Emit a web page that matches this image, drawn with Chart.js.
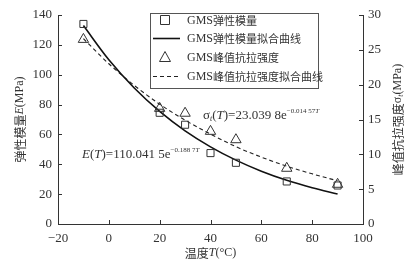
<!DOCTYPE html>
<html>
<head>
<meta charset="utf-8">
<script src="https://cdn.jsdelivr.net/npm/chart.js@4/dist/chart.umd.min.js"></script>
<style>
  html, body { margin: 0; padding: 0; background: #fff; }
  #wrap { width: 409px; height: 263px; }
</style>
</head>
<body>
<div id="wrap"><canvas id="chart"></canvas></div>
<script>
// measured points
const tempPoints = [-10, 20, 30, 40, 50, 70, 90];
const modulusPoints = [134, 74.5, 66.5, 47.5, 41, 28.5, 25.8];
const strengthPoints = [26.5, 16.6, 15.9, 13.3, 12.1, 8.0, 5.7];

// fitted curves
const tempCurve = [-10, 0, 10, 20, 30, 40, 50, 60, 70, 80, 90];
const modulusCurve = [132.9, 110.0, 91.1, 75.4, 62.4, 51.7, 42.8, 35.4, 29.3, 24.3, 20.1];
const strengthCurve = [26.6, 23.0, 19.9, 17.2, 14.9, 12.9, 11.1, 9.6, 8.3, 7.2, 6.2];

const xTicks = [-20, 0, 20, 40, 60, 80, 100];
const leftTicks = [0, 20, 40, 60, 80, 100, 120, 140];
const rightTicks = [0, 5, 10, 15, 20, 25, 30];

const serif = '"Liberation Serif", "Noto Sans CJK SC", serif';
const cjk = '"Noto Sans CJK SC", "Liberation Serif", serif';
const ink = '#333';

const pts = (xs, ys) => xs.map((x, i) => ({x: x, y: ys[i]}));

// mixed-font text: segs = [text, font, dy]
function rich(ctx, x, y, segs) {
    let cx = x;
    segs.forEach(s => {
        ctx.font = s[1];
        ctx.fillText(s[0], cx, y + (s[2] || 0));
        cx += ctx.measureText(s[0]).width;
    });
    return cx - x;
}
function richWidth(ctx, segs) {
    let w = 0;
    segs.forEach(s => { ctx.font = s[1]; w += ctx.measureText(s[0]).width; });
    return w;
}

const decor = {
    id: 'decor',
    afterDraw(chart) {
        const ctx = chart.ctx;
        const area = chart.chartArea;
        const sx = chart.scales.x, sy = chart.scales.y, sy1 = chart.scales.y1;
        ctx.save();
        ctx.strokeStyle = ink;
        ctx.lineWidth = 1;
        ctx.beginPath();
        sx.ticks.forEach(t => {
            const p = Math.round(sx.getPixelForValue(t.value)) + 0.5;
            ctx.moveTo(p, area.bottom); ctx.lineTo(p, area.bottom - 4);
        });
        sy.ticks.forEach(t => {
            const p = Math.round(sy.getPixelForValue(t.value)) + 0.5;
            ctx.moveTo(area.left, p); ctx.lineTo(area.left + 4, p);
        });
        sy1.ticks.forEach(t => {
            const p = Math.round(sy1.getPixelForValue(t.value)) + 0.5;
            ctx.moveTo(area.right, p); ctx.lineTo(area.right - 4, p);
        });
        ctx.stroke();

        ctx.fillStyle = ink;
        ctx.textBaseline = 'middle';
        ctx.textAlign = 'left';

        // axis titles
        const xt = [['温度', '12px ' + cjk], ['T', 'italic 12px ' + serif], ['(°C)', '12px ' + serif]];
        rich(ctx, (area.left + area.right) / 2 - richWidth(ctx, xt) / 2, 253, xt);

        const lt = [['弹性模量', '12px ' + cjk], ['E', 'italic 12px ' + serif], ['(MPa)', '12px ' + serif]];
        ctx.save();
        ctx.translate(20, (area.top + area.bottom) / 2);
        ctx.rotate(-Math.PI / 2);
        rich(ctx, -richWidth(ctx, lt) / 2, 0, lt);
        ctx.restore();

        const rt = [['峰值抗拉强度', '12px ' + cjk], ['σ', '12px ' + serif], ['t', 'italic 8px ' + serif, 3], ['(MPa)', '12px ' + serif]];
        ctx.save();
        ctx.translate(398, (area.top + area.bottom) / 2);
        ctx.rotate(-Math.PI / 2);
        rich(ctx, -richWidth(ctx, rt) / 2, 0, rt);
        ctx.restore();

        // fit equations
        rich(ctx, 203, 116, [
            ['σ', '13px ' + serif], ['t', 'italic 8px ' + serif, 3], ['(', '13px ' + serif],
            ['T', 'italic 13px ' + serif], [')=23.039 8e', '13px ' + serif],
            ['−0.014 57', '7px ' + serif, -5], ['T', 'italic 7px ' + serif, -5]
        ]);
        rich(ctx, 82, 155, [
            ['E', 'italic 13px ' + serif], ['(', '13px ' + serif], ['T', 'italic 13px ' + serif],
            [')=110.041 5e', '13px ' + serif],
            ['−0.188 7', '7px ' + serif, -5], ['T', 'italic 7px ' + serif, -5]
        ]);

        // legend box
        const bx = 150.5, by = 13.5, bw = 168, bh = 75;
        ctx.fillStyle = '#fff';
        ctx.fillRect(bx, by, bw, bh);
        ctx.strokeStyle = '#555';
        ctx.strokeRect(bx, by, bw, bh);
        const rows = [20, 38, 57, 76];
        chart.data.datasets.forEach((ds, i) => {
            const y = rows[i];
            ctx.strokeStyle = ds.borderColor;
            ctx.lineWidth = ds.borderWidth || 1;
            if (ds.showLine === false) {
                ctx.beginPath();
                if (ds.pointStyle === 'rect') {
                    ctx.rect(165 - 4.5, y - 4.5, 9, 9);
                } else {
                    ctx.moveTo(165, y - 5.5); ctx.lineTo(170.5, y + 4.5); ctx.lineTo(159.5, y + 4.5); ctx.closePath();
                }
                ctx.lineWidth = 1;
                ctx.stroke();
            } else {
                ctx.setLineDash(ds.borderDash || []);
                ctx.beginPath();
                ctx.moveTo(153, y + 0.5); ctx.lineTo(180, y + 0.5);
                ctx.stroke();
                ctx.setLineDash([]);
            }
            ctx.fillStyle = ink;
            const m = ds.label.match(/^(GMS)(.*)$/);
            rich(ctx, 187, y + 1, [[m[1], '12px ' + serif], [m[2], '11px ' + cjk]]);
        });
        ctx.restore();
    }
};

const chart = document.querySelector('#chart').getContext('2d');
new Chart(chart, {
    type: 'line',
    data: {
        datasets: [
            {
                label: 'GMS弹性模量',
                data: pts(tempPoints, modulusPoints),
                yAxisID: 'y',
                showLine: false,
                pointStyle: 'rect',
                pointRadius: 5,
                pointBorderWidth: 1,
                pointBackgroundColor: 'rgba(0,0,0,0)',
                pointBorderColor: '#333',
                borderColor: '#333',
                borderWidth: 1,
                order: 0
            },
            {
                label: 'GMS弹性模量拟合曲线',
                data: pts(tempCurve, modulusCurve),
                yAxisID: 'y',
                borderColor: '#111',
                borderWidth: 1.6,
                pointRadius: 0,
                cubicInterpolationMode: 'monotone',
                order: 2
            },
            {
                label: 'GMS峰值抗拉强度',
                data: pts(tempPoints, strengthPoints),
                yAxisID: 'y1',
                showLine: false,
                pointStyle: 'triangle',
                pointRadius: 6,
                pointBorderWidth: 1,
                pointBackgroundColor: 'rgba(0,0,0,0)',
                pointBorderColor: '#333',
                borderColor: '#333',
                borderWidth: 1,
                order: 0
            },
            {
                label: 'GMS峰值抗拉强度拟合曲线',
                data: pts(tempCurve, strengthCurve),
                yAxisID: 'y1',
                borderColor: '#222',
                borderWidth: 1.1,
                borderDash: [4, 3],
                pointRadius: 0,
                cubicInterpolationMode: 'monotone',
                order: 2
            }
        ]
    },
    options: {
        responsive: true,
        maintainAspectRatio: false,
        animation: false,
        layout: { padding: { top: 15, left: 0, right: 0, bottom: 0 } },
        plugins: { legend: { display: false }, tooltip: { enabled: false } },
        scales: {
            x: {
                type: 'linear',
                min: -20, max: 100,
                afterBuildTicks: s => { s.ticks = xTicks.map(v => ({value: v})); },
                ticks: { padding: 7, color: ink, font: { family: serif, size: 13 }, callback: v => String(v).replace('-', '−') },
                grid: { drawOnChartArea: false, drawTicks: false },
                border: { color: ink, width: 1 },
                afterFit: s => { s.height = 39; }
            },
            y: {
                position: 'left',
                min: 0, max: 140,
                afterBuildTicks: s => { s.ticks = leftTicks.map(v => ({value: v})); },
                ticks: { padding: 6, color: ink, font: { family: serif, size: 13 } },
                grid: { drawOnChartArea: false, drawTicks: false },
                border: { color: ink, width: 1 },
                afterFit: s => { s.width = 58; }
            },
            y1: {
                position: 'right',
                min: 0, max: 30,
                afterBuildTicks: s => { s.ticks = rightTicks.map(v => ({value: v})); },
                ticks: { padding: 5, color: ink, font: { family: serif, size: 13 } },
                grid: { drawOnChartArea: false, drawTicks: false },
                border: { color: ink, width: 1 },
                afterFit: s => { s.width = 46; }
            }
        }
    },
    plugins: [decor]
});
</script>
</body>
</html>
